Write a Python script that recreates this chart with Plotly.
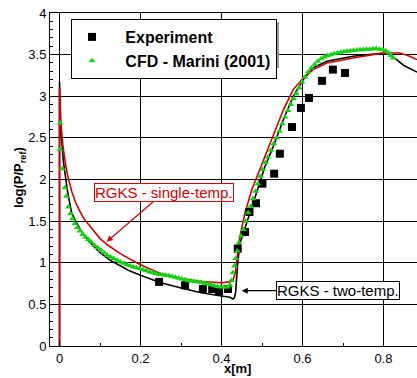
import plotly.graph_objects as go

# Experiment (black squares)
exp_x = [0.246, 0.310, 0.354, 0.377, 0.394, 0.416, 0.440, 0.458, 0.469, 0.485,
         0.501, 0.530, 0.544, 0.574, 0.596, 0.616, 0.648, 0.675, 0.705]
exp_y = [0.77, 0.73, 0.685, 0.685, 0.66, 0.685, 1.17, 1.37, 1.61, 1.715,
         1.95, 2.07, 2.31, 2.63, 2.86, 2.98, 3.185, 3.32, 3.28]

# CFD - Marini (2001) (green triangles)
cfd_x = [0.001, 0.001, 0.007, 0.013, 0.017, 0.022, 0.027, 0.032, 0.038, 0.044,
         0.050, 0.057, 0.064, 0.071, 0.078, 0.086, 0.094, 0.102, 0.110, 0.118,
         0.126, 0.134, 0.142, 0.150, 0.158, 0.166, 0.174, 0.182, 0.190, 0.198,
         0.206, 0.214, 0.222, 0.230, 0.238, 0.246, 0.254, 0.262, 0.270, 0.278,
         0.286, 0.294, 0.302, 0.310, 0.318, 0.326, 0.334, 0.342, 0.350, 0.358,
         0.366, 0.374, 0.382, 0.390, 0.398, 0.406, 0.414, 0.421, 0.425, 0.428,
         0.432, 0.435, 0.439, 0.443, 0.448, 0.454, 0.460, 0.466, 0.472, 0.478,
         0.484, 0.490, 0.496, 0.502, 0.508, 0.515, 0.522, 0.529, 0.536, 0.543,
         0.550, 0.557, 0.564, 0.571, 0.578, 0.585, 0.592, 0.599, 0.606, 0.614,
         0.622, 0.630, 0.638, 0.646, 0.654, 0.662, 0.670, 0.678, 0.686, 0.694,
         0.702, 0.710, 0.718, 0.726, 0.734, 0.742, 0.750, 0.758, 0.766, 0.774,
         0.782, 0.790, 0.798, 0.806, 0.813, 0.819, 0.824]
cfd_y = [2.68, 2.36, 2.13, 1.90, 1.80, 1.67, 1.59, 1.53, 1.47, 1.42,
         1.38, 1.34, 1.31, 1.28, 1.25, 1.21, 1.18, 1.15, 1.12, 1.09,
         1.07, 1.05, 1.03, 1.01, 0.995, 0.98, 0.965, 0.95, 0.94, 0.93,
         0.915, 0.905, 0.89, 0.88, 0.87, 0.86, 0.855, 0.85, 0.845, 0.835,
         0.825, 0.815, 0.805, 0.795, 0.785, 0.78, 0.775, 0.77, 0.765, 0.755,
         0.745, 0.735, 0.725, 0.715, 0.71, 0.71, 0.71, 0.73, 0.79, 0.88,
         0.96, 1.05, 1.14, 1.24, 1.32, 1.40, 1.50, 1.60, 1.68, 1.77,
         1.86, 1.95, 2.04, 2.12, 2.20, 2.27, 2.35, 2.43, 2.50, 2.58,
         2.67, 2.75, 2.83, 2.90, 2.97, 3.03, 3.10, 3.17, 3.23, 3.29,
         3.34, 3.38, 3.42, 3.45, 3.47, 3.49, 3.50, 3.51, 3.52, 3.53,
         3.535, 3.54, 3.545, 3.55, 3.555, 3.56, 3.56, 3.565, 3.565, 3.57,
         3.57, 3.565, 3.56, 3.545, 3.52, 3.49, 3.46]

# RGKS - two-temp. (black line)
two_x = [0.0, 0.0, 0.003, 0.01, 0.02, 0.03, 0.04, 0.05, 0.067, 0.08,
         0.1, 0.125, 0.15, 0.174, 0.2, 0.25, 0.305, 0.35, 0.4, 0.421,
         0.428, 0.432, 0.435, 0.437, 0.44, 0.446, 0.458, 0.475, 0.491, 0.507,
         0.528, 0.553, 0.577, 0.602, 0.626, 0.66, 0.725, 0.8, 0.815, 0.83,
         0.85, 0.883]
two_y = [0.0, 3.17, 2.6, 2.2, 1.85, 1.6, 1.5, 1.41, 1.29, 1.22,
         1.12, 1.03, 0.96, 0.9, 0.85, 0.76, 0.69, 0.64, 0.6, 0.585,
         0.565, 0.58, 0.65, 0.85, 1.0, 1.24, 1.43, 1.67, 1.91, 2.15,
         2.4, 2.72, 3.0, 3.2, 3.34, 3.42, 3.48, 3.52, 3.5, 3.45,
         3.37, 3.29]

# RGKS - single-temp. (red line)
one_x = [0.0, 0.0, 0.003, 0.008, 0.015, 0.02, 0.03, 0.04, 0.05, 0.06,
         0.08, 0.1, 0.12, 0.15, 0.19, 0.22, 0.25, 0.3, 0.35, 0.4,
         0.42, 0.428, 0.434, 0.438, 0.442, 0.447, 0.458, 0.475, 0.491, 0.507,
         0.528, 0.553, 0.577, 0.602, 0.626, 0.66, 0.725, 0.8, 0.84, 0.86,
         0.883]
one_y = [0.0, 3.1, 2.7, 2.42, 2.18, 2.05, 1.86, 1.72, 1.62, 1.53,
         1.41, 1.29, 1.21, 1.11, 1.0, 0.93, 0.87, 0.81, 0.775, 0.76,
         0.77, 0.78, 0.88, 1.05, 1.2, 1.35, 1.6, 1.88, 2.08, 2.26,
         2.52, 2.84, 3.08, 3.22, 3.32, 3.40, 3.46, 3.52, 3.52, 3.49,
         3.44]

x_ticks = [0, 0.2, 0.4, 0.6, 0.8]
x_tick_text = ["0", "0.2", "0.4", "0.6", "0.8"]
y_ticks = [0, 0.5, 1, 1.5, 2, 2.5, 3, 3.5, 4]
y_tick_text = ["0", "0.5", "1", "1.5", "2", "2.5", "3", "3.5", "4"]

FONT = "Liberation Sans, Arial, Helvetica, sans-serif"
RED = "#d40000"
GREEN = "#14d014"
PAD = "\u00a0\u00a0\u00a0"

# plot-area pixel geometry (for paper-coordinate placement)
PL, PR, PT, PB = 50, 417, 13, 346
def px(xp):
    return (xp - PL) / (PR - PL)
def py(yp):
    return (PB - yp) / (PB - PT)

fig = go.Figure()
fig.add_trace(go.Scatter(x=two_x, y=two_y, mode="lines", line=dict(color="black", width=1.6),
                         showlegend=False))
fig.add_trace(go.Scatter(x=one_x, y=one_y, mode="lines", line=dict(color=RED, width=1.6),
                         showlegend=False))
fig.add_trace(go.Scatter(x=exp_x, y=exp_y, mode="markers", name=PAD + "<b>Experiment</b>",
                         marker=dict(symbol="square", size=8, color="black")))
fig.add_trace(go.Scatter(x=cfd_x, y=cfd_y, mode="markers", name=PAD + "<b>CFD - Marini (2001)</b>",
                         marker=dict(symbol="triangle-up", size=6, color=GREEN)))

fig.update_layout(
    width=417, height=378,
    margin=dict(l=50, r=0, t=13, b=32, autoexpand=False),
    paper_bgcolor="white", plot_bgcolor="white",
    font=dict(family=FONT, size=13, color="black"),
    showlegend=True,
    legend=dict(x=px(71), y=py(19), xanchor="left", yanchor="top",
                bgcolor="white", bordercolor="black", borderwidth=1,
                font=dict(family=FONT, size=16, color="black"),
                itemwidth=30, tracegroupgap=0),
    shapes=[
        dict(type="rect", xref="paper", yref="paper", x0=px(74), x1=px(279), y0=py(68), y1=py(22),
             line=dict(width=0), fillcolor="#9a9a9a", layer="above"),
    ],
    annotations=[
        dict(x=0.1165, y=1.253, xref="x", yref="y", ax=57, ay=-49,
             text="RGKS - single-temp.", showarrow=True, arrowhead=2, arrowsize=1,
             arrowwidth=1.2, arrowcolor=RED, font=dict(family=FONT, size=15, color=RED),
             bordercolor=RED, borderwidth=1, borderpad=0, bgcolor="white"),
        dict(x=0.45, y=0.664, xref="x", yref="y", ax=96, ay=0,
             text="RGKS - two-temp.", showarrow=True, arrowhead=2, arrowsize=1,
             arrowwidth=1.2, arrowcolor="black", font=dict(family=FONT, size=15, color="black"),
             bordercolor="black", borderwidth=1, borderpad=0, bgcolor="white"),
        dict(x=px(237), y=py(368), xref="paper", yref="paper",
             text="<b>x[m]</b>", showarrow=False, font=dict(family=FONT, size=13),
             xanchor="center", yanchor="middle"),
        dict(x=px(19), y=py(178), xref="paper", yref="paper",
             text="<b>log(P/P<sub>ref</sub>)</b>", showarrow=False, textangle=-90,
             font=dict(family=FONT, size=13), xanchor="center", yanchor="middle"),
    ],
)
fig.update_xaxes(range=[-0.0235, 0.8827], tickvals=x_ticks, ticktext=x_tick_text,
                 automargin=False,
                 showgrid=True, gridcolor="black", gridwidth=1, zeroline=False,
                 showline=True, linecolor="black", linewidth=1, mirror=True,
                 ticks="inside", ticklen=5, tickcolor="black",
                 minor=dict(dtick=0.1, tick0=0, ticks="inside", ticklen=3, tickcolor="black", showgrid=False),
                 tickfont=dict(family=FONT, size=13))
fig.update_yaxes(range=[0, 4], tickvals=y_ticks, ticktext=y_tick_text,
                 automargin=False,
                 showgrid=True, gridcolor="black", gridwidth=1, zeroline=False,
                 showline=True, linecolor="black", linewidth=1, mirror=False,
                 ticks="inside", ticklen=5, tickcolor="black",
                 minor=dict(dtick=0.1, tick0=0, ticks="inside", ticklen=3, tickcolor="black", showgrid=False),
                 tickfont=dict(family=FONT, size=13))

fig.write_html("out.html", config={"displayModeBar": False},
               post_script="document.body.style.margin='0';document.body.style.padding='0';")
